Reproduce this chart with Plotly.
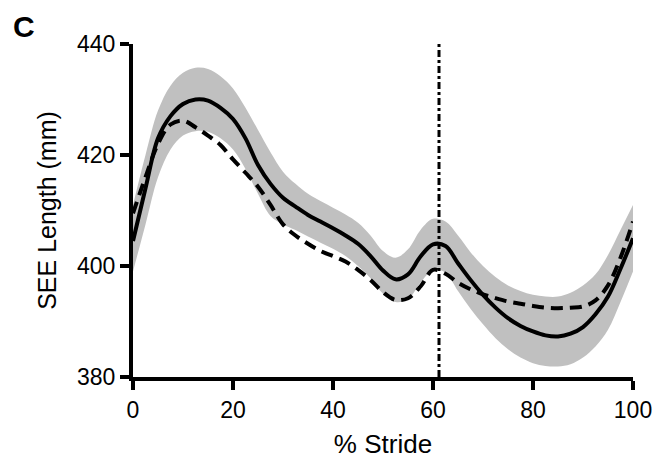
import plotly.graph_objects as go

stride = [0, 2.5, 5, 7.5, 10, 12.5, 15, 17.5, 20, 22.5, 25, 27.5, 30, 32.5, 35, 37.5,
          40, 42.5, 45, 47.5, 50, 52.5, 55, 57.5, 60, 62.5, 65, 67.5, 70, 72.5, 75,
          77.5, 80, 82.5, 85, 87.5, 90, 92.5, 95, 97.5, 100]

mean_solid = [404.5, 414, 423, 427, 429.2, 430, 429.8, 428.5, 426.5, 423, 418.2,
              414.8, 412.3, 410.7, 409.2, 408, 406.8, 405.5, 404, 401.8, 399.2,
              397.6, 398.5, 401.7, 403.9, 403.6, 400.5, 397.5, 394.8, 392.5, 390.6,
              389.2, 388.2, 387.5, 387.3, 387.8, 389, 391.3, 394.5, 399.5, 405]

upper_band = [411, 420, 428, 432.5, 434.8, 435.7, 435.5, 434.2, 432, 428.5, 424.5,
              420.5, 417, 414.8, 413, 411.7, 410.5, 409.3, 407.8, 405.5, 402.7,
              401.5, 403, 406.5, 408.5, 408, 405.5, 402.5, 400, 398, 396.5,
              395.5, 394.8, 394.5, 394.5, 395.2, 396.5, 398.5, 402, 406.5, 411]

lower_band = [399, 407.5, 416, 421, 423.5, 424.3, 424.2, 423, 421, 417.5, 413,
              409, 407.5, 406.5, 405.3, 404.2, 403.1, 401.8, 400, 397.8, 395,
              393.5, 394, 397, 399.3, 398.8, 395.5, 392.3, 389.5, 387, 385,
              383.5, 382.5, 382, 381.9, 382.3, 383.5, 385.5, 388.5, 393.5, 399]

mean_dashed = [409.5, 416, 422, 425.5, 426.2, 425, 423.5, 421.8, 419.2, 416.8, 414.3,
               411, 407.5, 405.5, 404, 402.7, 401.8, 400.8, 399.3, 397.5, 395.3,
               393.9, 394.2, 396.3, 399.3, 398.6, 397, 395.8, 394.9, 394.2, 393.6,
               393.2, 392.8, 392.5, 392.4, 392.5, 392.7, 393.8, 396.5, 401.5, 408]

marker_x = 61.2
x_ticks = [0, 20, 40, 60, 80, 100]
y_ticks = [380, 400, 420, 440]

FONT = "Liberation Sans, Arial, sans-serif"
W, H = 655, 464
L, R, T, B = 133, 22, 44, 87
PW, PH = W - L - R, H - T - B

fig = go.Figure()
fig.add_trace(go.Scatter(x=stride, y=upper_band, mode="lines", line=dict(width=0, shape="spline"),
                         hoverinfo="skip", showlegend=False))
fig.add_trace(go.Scatter(x=stride, y=lower_band, mode="lines", line=dict(width=0, shape="spline"),
                         fill="tonexty", fillcolor="#c0c0c0", hoverinfo="skip", showlegend=False))
fig.add_trace(go.Scatter(x=stride, y=mean_dashed, mode="lines",
                         line=dict(color="black", width=4, dash="12px,7px", shape="spline"),
                         showlegend=False))
fig.add_trace(go.Scatter(x=stride, y=mean_solid, mode="lines",
                         line=dict(color="black", width=4, shape="spline"),
                         showlegend=False))

fig.add_shape(type="line", x0=marker_x, x1=marker_x, y0=380, y1=440, xref="x", yref="y",
              line=dict(color="black", width=3, dash="7px,3px,3px,3px"))

fig.add_annotation(text="<b>C</b>", x=(11 - L) / PW, y=1 + (T - 26) / PH,
                   xref="paper", yref="paper", showarrow=False,
                   font=dict(family=FONT, size=30, color="black"), xanchor="left", yanchor="middle")

fig.update_layout(
    width=W, height=H,
    margin=dict(l=L, r=R, t=T, b=B, autoexpand=False),
    paper_bgcolor="white", plot_bgcolor="white",
    font=dict(family=FONT, color="black"),
)
fig.update_xaxes(range=[0, 100], tickvals=x_ticks, ticktext=[str(v) for v in x_ticks],
                 showline=True, linewidth=4, linecolor="black", ticks="outside", ticklen=9,
                 tickwidth=4, tickcolor="black", showgrid=False, zeroline=False, automargin=False,
                 tickfont=dict(size=23, family=FONT),
                 title=dict(text="% Stride", font=dict(size=26, family=FONT), standoff=14))
fig.update_yaxes(range=[380, 440], tickvals=y_ticks, ticktext=[str(v) for v in y_ticks],
                 showline=True, linewidth=4, linecolor="black", ticks="outside", ticklen=9,
                 tickwidth=4, tickcolor="black", showgrid=False, zeroline=False, automargin=False,
                 tickfont=dict(size=23, family=FONT),
                 title=dict(text="SEE Length (mm)", font=dict(size=25, family=FONT), standoff=14))

fig.write_html("out.html", config={"displayModeBar": False},
               post_script="document.body.style.margin='0';document.body.style.overflow='hidden';")
